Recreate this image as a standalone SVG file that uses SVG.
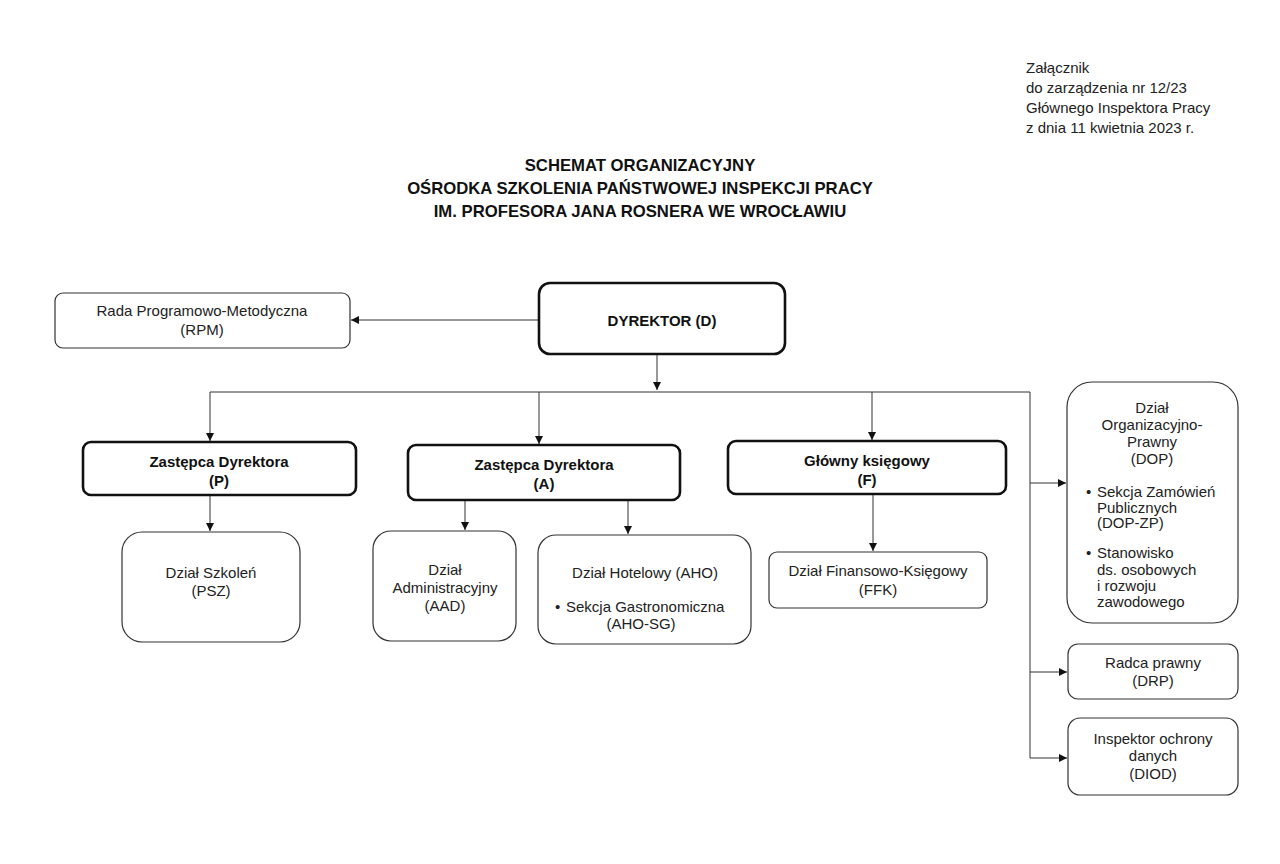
<svg xmlns="http://www.w3.org/2000/svg" width="1280" height="864" viewBox="0 0 1280 864">
<defs>
<marker id="ah" viewBox="0 0 10 10" refX="10" refY="5" markerWidth="8" markerHeight="8" markerUnits="userSpaceOnUse" orient="auto">
<path d="M0,0 L10,5 L0,10 z" fill="#111"/>
</marker>
<style>
text{font-family:"Liberation Sans",Arial,sans-serif;font-size:15px;fill:#222;text-anchor:middle}
.b{font-weight:bold;fill:#111}
.t{font-weight:bold;font-size:16.7px;fill:#111}
.l{text-anchor:start}
.box{fill:#fff;stroke:#333;stroke-width:1.2}
.thick{fill:#fff;stroke:#111;stroke-width:2.6}
.c{fill:none;stroke:#333;stroke-width:1}
</style>
</defs>
<rect width="1280" height="864" fill="#fff"/>
<g id="header">
<text class="l" x="1026" y="73">Załącznik</text>
<text class="l" x="1026" y="93">do zarządzenia nr 12/23</text>
<text class="l" x="1026" y="113">Głównego Inspektora Pracy</text>
<text class="l" x="1026" y="133">z dnia 11 kwietnia 2023 r.</text>
<text class="t" x="640" y="171">SCHEMAT ORGANIZACYJNY</text>
<text class="t" x="640" y="194">OŚRODKA SZKOLENIA PAŃSTWOWEJ INSPEKCJI PRACY</text>
<text class="t" x="640" y="217">IM. PROFESORA JANA ROSNERA WE WROCŁAWIU</text>
</g>
<g id="connectors">
<line class="c" x1="539" y1="320" x2="351" y2="320" marker-end="url(#ah)"/>
<line class="c" x1="657" y1="355" x2="657" y2="390" marker-end="url(#ah)"/>
<polyline class="c" points="210,392 1030,392 1030,758"/>
<line class="c" x1="210" y1="392" x2="210" y2="441" marker-end="url(#ah)"/>
<line class="c" x1="539" y1="392" x2="539" y2="444" marker-end="url(#ah)"/>
<line class="c" x1="872" y1="392" x2="872" y2="440" marker-end="url(#ah)"/>
<line class="c" x1="1030" y1="483" x2="1066" y2="483" marker-end="url(#ah)"/>
<line class="c" x1="1030" y1="672" x2="1067" y2="672" marker-end="url(#ah)"/>
<line class="c" x1="1030" y1="758" x2="1067" y2="758" marker-end="url(#ah)"/>
<line class="c" x1="210" y1="496" x2="210" y2="531" marker-end="url(#ah)"/>
<line class="c" x1="465" y1="501" x2="465" y2="530" marker-end="url(#ah)"/>
<line class="c" x1="628" y1="501" x2="628" y2="534" marker-end="url(#ah)"/>
<line class="c" x1="873" y1="495" x2="873" y2="551" marker-end="url(#ah)"/>
</g>
<g id="rpm">
<rect class="box" x="55" y="293" width="295" height="55" rx="8"/>
<text x="202" y="316">Rada Programowo-Metodyczna</text>
<text x="202" y="335">(RPM)</text>
</g>
<g id="dyrektor">
<rect class="thick" x="539" y="283" width="246" height="71" rx="11"/>
<text class="b" x="662" y="326">DYREKTOR (D)</text>
</g>
<g id="zastepca-p">
<rect class="thick" x="83" y="442" width="273" height="53" rx="8"/>
<text class="b" x="219" y="467">Zastępca Dyrektora</text>
<text class="b" x="219" y="486">(P)</text>
</g>
<g id="zastepca-a">
<rect class="thick" x="408" y="445" width="272" height="55" rx="8"/>
<text class="b" x="544" y="470">Zastępca Dyrektora</text>
<text class="b" x="544" y="489">(A)</text>
</g>
<g id="glowny">
<rect class="thick" x="728" y="441" width="278" height="53" rx="8"/>
<text class="b" x="867" y="466">Główny księgowy</text>
<text class="b" x="867" y="485">(F)</text>
</g>
<g id="psz">
<rect class="box" x="122" y="532" width="178" height="110" rx="20"/>
<text x="211" y="578">Dział Szkoleń</text>
<text x="211" y="596">(PSZ)</text>
</g>
<g id="aad">
<rect class="box" x="373" y="531" width="143" height="110" rx="18"/>
<text x="445" y="575">Dział</text>
<text x="445" y="593">Administracyjny</text>
<text x="445" y="611">(AAD)</text>
</g>
<g id="aho">
<rect class="box" x="538" y="535" width="213" height="109" rx="18"/>
<text x="645" y="578">Dział Hotelowy (AHO)</text>
<text class="l" x="555" y="612">•</text>
<text class="l" x="566" y="612">Sekcja Gastronomiczna</text>
<text x="641" y="629">(AHO-SG)</text>
</g>
<g id="ffk">
<rect class="box" x="769" y="552" width="218" height="56" rx="8"/>
<text x="878" y="576">Dział Finansowo-Księgowy</text>
<text x="878" y="595">(FFK)</text>
</g>
<g id="dop">
<rect class="box" x="1067" y="382" width="171" height="241" rx="25"/>
<text x="1152" y="413">Dział</text>
<text x="1152" y="430">Organizacyjno-</text>
<text x="1152" y="447">Prawny</text>
<text x="1152" y="464">(DOP)</text>
<text class="l" x="1086" y="497">•</text>
<text class="l" x="1097" y="497">Sekcja Zamówień</text>
<text class="l" x="1097" y="513">Publicznych</text>
<text class="l" x="1097" y="528">(DOP-ZP)</text>
<text class="l" x="1086" y="558">•</text>
<text class="l" x="1097" y="558">Stanowisko</text>
<text class="l" x="1097" y="575">ds. osobowych</text>
<text class="l" x="1097" y="591">i rozwoju</text>
<text class="l" x="1097" y="607">zawodowego</text>
</g>
<g id="drp">
<rect class="box" x="1068" y="644" width="170" height="55" rx="10"/>
<text x="1153" y="668">Radca prawny</text>
<text x="1153" y="686">(DRP)</text>
</g>
<g id="diod">
<rect class="box" x="1068" y="718" width="170" height="77" rx="12"/>
<text x="1153" y="744">Inspektor ochrony</text>
<text x="1153" y="761">danych</text>
<text x="1153" y="779">(DIOD)</text>
</g>
</svg>
